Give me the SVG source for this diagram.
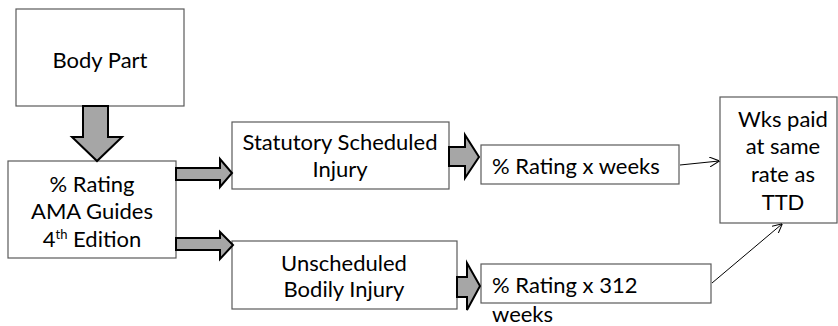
<svg xmlns="http://www.w3.org/2000/svg" width="838" height="326" viewBox="0 0 838 326">
  <style>
    .box { fill: #ffffff; stroke: #5a5a5a; stroke-width: 1.2; }
    .block { fill: #a6a6a6; stroke: #000000; stroke-width: 2; stroke-linejoin: miter; }
    .thin { fill: none; stroke: #000000; stroke-width: 1; }
    text { font-family: Lato, "Liberation Sans", sans-serif; font-size: 22px; fill: #000000; }
    .c { text-anchor: middle; }
  </style>
  <defs>
    <marker id="open" viewBox="0 0 10 10" refX="9.5" refY="5" markerWidth="10" markerHeight="10" markerUnits="userSpaceOnUse" orient="auto">
      <path d="M0,0 L10,5 L0,10" fill="none" stroke="#000" stroke-width="1"/>
    </marker>
  </defs>

  <rect width="838" height="326" fill="#ffffff"/>

  <g id="body-part">
    <rect class="box" x="16" y="9" width="168" height="97"/>
    <text class="c" x="100" y="68">Body Part</text>
  </g>

  <g id="rating">
    <rect class="box" x="8" y="161" width="168" height="97"/>
    <text class="c" x="92" y="192">% Rating</text>
    <text class="c" x="92" y="219">AMA Guides</text>
    <text class="c" x="92" y="247">4<tspan font-size="13" dy="-8">th</tspan><tspan dy="8"> Edition</tspan></text>
  </g>

  <g id="statutory">
    <rect class="box" x="232" y="122" width="217" height="67"/>
    <text class="c" x="340" y="150">Statutory Scheduled</text>
    <text class="c" x="340" y="177">Injury</text>
  </g>

  <g id="unscheduled">
    <rect class="box" x="232" y="241" width="225" height="68"/>
    <text class="c" x="344" y="271">Unscheduled</text>
    <text class="c" x="344" y="297">Bodily Injury</text>
  </g>

  <g id="rating-weeks">
    <rect class="box" x="481" y="145" width="198" height="39"/>
    <text x="492" y="174">% Rating x weeks</text>
  </g>

  <g id="rating-312">
    <rect class="box" x="481" y="264" width="230" height="39"/>
    <text x="492" y="293">% Rating x 312</text>
    <text x="492" y="322">weeks</text>
  </g>

  <g id="wks-paid">
    <rect class="box" x="720" y="97" width="117" height="126"/>
    <text class="c" x="783" y="127">Wks paid</text>
    <text class="c" x="783" y="154">at same</text>
    <text class="c" x="783" y="182">rate as</text>
    <text class="c" x="783" y="210">TTD</text>
  </g>

  <g id="connectors">
    <path class="block" d="M83,106 L108,106 L108,137 L122,137 L97,161 L72,137 L83,137 Z"/>
    <path class="block" d="M176,168 L220,168 L220,159 L232,173 L220,187 L220,180 L176,180 Z"/>
    <path class="block" d="M176,238 L220,238 L220,232 L233,245 L220,259 L220,250 L176,250 Z"/>
    <path class="block" d="M449,147 L465,147 L465,135 L479,157 L465,178 L465,166 L449,166 Z"/>
    <path class="block" d="M457,277 L467,277 L467,263 L480,286 L467,310 L467,297 L457,297 Z"/>
    <line class="thin" x1="680" y1="165" x2="719" y2="161" marker-end="url(#open)"/>
    <line class="thin" x1="712" y1="283" x2="782" y2="224" marker-end="url(#open)"/>
  </g>
</svg>
